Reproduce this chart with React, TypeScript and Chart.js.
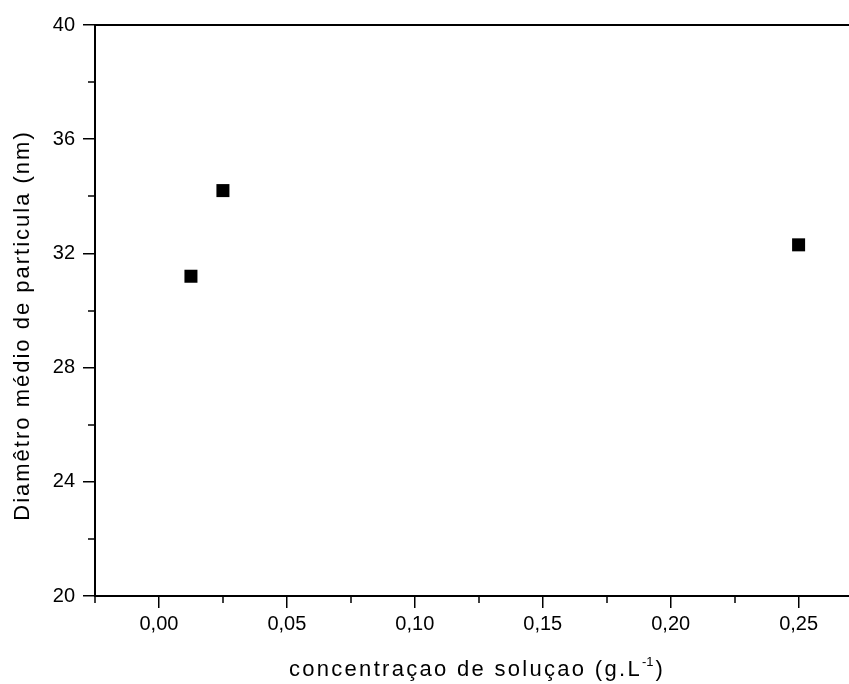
import React, { useEffect, useRef } from 'react';
import { Chart, registerables } from 'chart.js';

Chart.register(...registerables);

const concentrations = [0.0125, 0.025, 0.25];
const diameters = [31.2, 34.2, 32.3];
const xTicks = [0, 0.05, 0.1, 0.15, 0.2, 0.25];
const xMinorTicks = [-0.025, 0.025, 0.075, 0.125, 0.175, 0.225];
const yTicks = [20, 24, 28, 32, 36, 40];
const yMinorTicks = [22, 26, 30, 34, 38];
const xTitleMain = 'concentraçao de soluçao (g.L';
const xTitleSup = '-1';
const xTitleEnd = ')';
const yTitle = 'Diamêtro médio de particula (nm)';

const FONT = '"Liberation Sans", Arial, sans-serif';

const framePlugin = {
  id: 'frame',
  afterDraw(chart: any) {
    const { ctx, chartArea, scales } = chart;
    const xs = scales.x;
    const ys = scales.y;
    ctx.save();
    ctx.strokeStyle = '#000';
    ctx.lineWidth = 2;
    // top frame line
    ctx.beginPath();
    ctx.moveTo(chartArea.left, chartArea.top);
    ctx.lineTo(chartArea.right, chartArea.top);
    ctx.stroke();
    // minor ticks
    ctx.lineWidth = 1.5;
    ctx.beginPath();
    xMinorTicks.forEach((v) => {
      const px = Math.round(xs.getPixelForValue(v));
      ctx.moveTo(px, chartArea.bottom);
      ctx.lineTo(px, chartArea.bottom + 7);
    });
    yMinorTicks.forEach((v) => {
      const py = Math.round(ys.getPixelForValue(v));
      ctx.moveTo(chartArea.left - 7, py);
      ctx.lineTo(chartArea.left, py);
    });
    ctx.stroke();

    // titles
    ctx.fillStyle = '#000';
    const anyCtx = ctx as any;
    // y title
    ctx.save();
    ctx.font = `22px ${FONT}`;
    anyCtx.letterSpacing = '2px';
    ctx.textAlign = 'center';
    ctx.textBaseline = 'middle';
    ctx.translate(23, (chartArea.top + chartArea.bottom) / 2 + 15);
    ctx.rotate(-Math.PI / 2);
    ctx.fillText(yTitle, 0, 0);
    ctx.restore();

    // x title with superscript
    ctx.save();
    ctx.textBaseline = 'alphabetic';
    ctx.textAlign = 'left';
    anyCtx.letterSpacing = '2.3px';
    ctx.font = `22px ${FONT}`;
    const wMain = ctx.measureText(xTitleMain).width;
    const wEnd = ctx.measureText(xTitleEnd).width;
    ctx.font = `13px ${FONT}`;
    anyCtx.letterSpacing = '0px';
    const wSup = ctx.measureText(xTitleSup).width;
    const total = wMain + wSup + 2 + wEnd;
    const cx = (chartArea.left + chartArea.right) / 2 + 5;
    const baseY = chartArea.bottom + 80;
    let x0 = cx - total / 2;
    ctx.font = `22px ${FONT}`;
    anyCtx.letterSpacing = '2.3px';
    ctx.fillText(xTitleMain, x0, baseY);
    x0 += wMain;
    ctx.font = `13px ${FONT}`;
    anyCtx.letterSpacing = '0px';
    ctx.fillText(xTitleSup, x0, baseY - 10);
    x0 += wSup + 2;
    ctx.font = `22px ${FONT}`;
    anyCtx.letterSpacing = '2.3px';
    ctx.fillText(xTitleEnd, x0, baseY);
    ctx.restore();

    ctx.restore();
  },
};

export default function App() {
  const canvasRef = useRef<HTMLCanvasElement | null>(null);

  useEffect(() => {
    const canvas = canvasRef.current;
    if (!canvas) return;
    const chart = new Chart(canvas, {
      type: 'scatter',
      data: {
        datasets: [
          {
            data: concentrations.map((c, i) => ({ x: c, y: diameters[i] })),
            pointStyle: 'rect',
            pointRadius: 9.2,
            pointHoverRadius: 9.2,
            backgroundColor: '#000',
            borderColor: '#000',
            borderWidth: 0,
            showLine: false,
          },
        ],
      },
      options: {
        responsive: false,
        animation: false,
        events: [],
        layout: { autoPadding: false, padding: { top: 25, right: 0, left: 0, bottom: 0 } },
        plugins: {
          legend: { display: false },
          tooltip: { enabled: false },
          title: { display: false },
        },
        scales: {
          x: {
            type: 'linear',
            min: -0.025,
            max: 0.2697,
            afterBuildTicks: (scale: any) => {
              scale.ticks = xTicks.map((v) => ({ value: v }));
            },
            afterFit: (scale: any) => {
              scale.height = 88;
              scale.paddingRight = 0;
              scale.paddingLeft = 0;
            },
            border: { display: true, color: '#000', width: 2 },
            grid: {
              drawOnChartArea: false,
              drawTicks: true,
              tickLength: 12,
              color: '#000',
              lineWidth: 1.5,
            },
            ticks: {
              padding: 4,
              color: '#000',
              font: { family: FONT, size: 20 },
              maxRotation: 0,
              autoSkip: false,
              callback: (v: any) => Number(v).toFixed(2).replace('.', ','),
            },
          },
          y: {
            type: 'linear',
            min: 20,
            max: 40,
            afterBuildTicks: (scale: any) => {
              scale.ticks = yTicks.map((v) => ({ value: v }));
            },
            afterFit: (scale: any) => {
              scale.width = 95;
              scale.paddingTop = 0;
              scale.paddingBottom = 0;
            },
            border: { display: true, color: '#000', width: 2 },
            grid: {
              drawOnChartArea: false,
              drawTicks: true,
              tickLength: 12,
              color: '#000',
              lineWidth: 1.5,
            },
            ticks: {
              padding: 8,
              color: '#000',
              font: { family: FONT, size: 20 },
              autoSkip: false,
              callback: (v: any) => String(v),
            },
          },
        },
      },
      plugins: [framePlugin],
    });
    return () => chart.destroy();
  }, []);

  return (
    <div style={{ position: 'absolute', left: 0, top: 0, width: 849, height: 684, background: '#fff' }}>
      <canvas ref={canvasRef} width={849} height={684} style={{ display: 'block' }} />
    </div>
  );
}
